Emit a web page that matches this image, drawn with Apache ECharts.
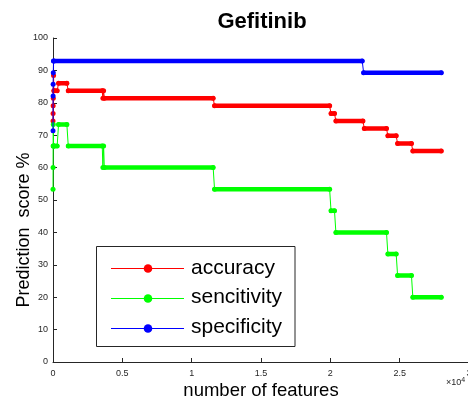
<!DOCTYPE html>
<html>
<head>
<meta charset="utf-8">
<script src="https://cdn.jsdelivr.net/npm/echarts@6/dist/echarts.min.js"></script>
<style>
  html, body { margin: 0; padding: 0; background: #fff; }
  #chart { width: 468px; height: 404px; }
</style>
</head>
<body>
<div id="chart"></div>
<script>
// Prediction scores against the number of selected features (Gefitinib)
const accFeatures = [1, 5, 10, 20, 40, 60, 100, 300, 400, 1000, 1100, 3550, 3600, 3650, 3700, 11550, 11650, 19950, 20050, 20300, 20400, 22350, 22450, 24050, 24150, 24750, 24850, 25850, 25950, 28000];
const accScores   = [74.4, 76.7, 79.1, 81.4, 88.4, 83.7, 83.7, 83.7, 86.0, 86.0, 83.7, 83.7, 81.4, 83.7, 81.4, 81.4, 79.1, 79.1, 76.7, 76.7, 74.4, 74.4, 72.1, 72.1, 69.8, 69.8, 67.4, 67.4, 65.1, 65.1];

const senFeatures = [1, 5, 10, 20, 40, 60, 100, 300, 400, 1000, 1100, 3550, 3600, 3650, 3700, 11550, 11650, 19950, 20050, 20300, 20400, 24050, 24150, 24750, 24850, 25850, 25950, 28000];
const senScores   = [53.3, 60.0, 66.7, 73.3, 66.7, 66.7, 66.7, 66.7, 73.3, 73.3, 66.7, 66.7, 60.0, 66.7, 60.0, 60.0, 53.3, 53.3, 46.7, 46.7, 40.0, 40.0, 33.3, 33.3, 26.7, 26.7, 20.0, 20.0];

const speFeatures = [1, 5, 10, 20, 40, 60, 22300, 22400, 28000];
const speScores   = [71.4, 82.1, 85.7, 89.3, 92.9, 92.9, 92.9, 89.3, 89.3];

const seriesNames = ['accuracy', 'sencitivity', 'specificity'];
const seriesColors = ['#ff0000', '#00ff00', '#0000ff'];

const yTicks = [0, 10, 20, 30, 40, 50, 60, 70, 80, 90, 100];
const xTickLabels = ['0', '0.5', '1', '1.5', '2', '2.5', '3'];

const FONT = '"Liberation Sans", Arial, Helvetica, sans-serif';
const AXIS_COLOR = '#262626';

function points(xs, ys) {
  return xs.map((x, i) => [x, ys[i]]);
}

// Only the flat runs of a step curve, broken wherever the value changes
function flatRuns(xs, ys) {
  const out = [];
  for (let i = 0; i < xs.length; i++) {
    if (i > 0 && ys[i] !== ys[i - 1]) out.push([xs[i], '-']);
    out.push([xs[i], ys[i]]);
  }
  return out;
}

function curve(name, color, xs, ys, z) {
  return [
    {
      name: name,
      type: 'line',
      data: points(xs, ys),
      symbol: 'circle',
      symbolSize: 5,
      showSymbol: true,
      lineStyle: { width: 1, color: color },
      itemStyle: { color: color },
      z: z,
      silent: true
    },
    {
      name: name + '-run',
      type: 'line',
      data: flatRuns(xs, ys),
      showSymbol: false,
      connectNulls: false,
      lineStyle: { width: 4.5, color: color, cap: 'round' },
      z: z,
      silent: true
    }
  ];
}

const chart = echarts.init(document.getElementById('chart'), null, { renderer: 'canvas' });

const legendLeft = 96.5, legendTop = 246.5, legendW = 198.5, legendH = 100;
const legendRows = [268, 297.5, 327.5];
const legendGraphics = [
  {
    type: 'rect',
    shape: { x: legendLeft, y: legendTop, width: legendW, height: legendH },
    style: { fill: '#ffffff', stroke: AXIS_COLOR, lineWidth: 1 },
    z: 100
  }
];
seriesNames.forEach((name, i) => {
  const y = legendRows[i];
  legendGraphics.push(
    { type: 'line', shape: { x1: 111, y1: Math.round(y) + 0.5, x2: 184, y2: Math.round(y) + 0.5 }, style: { stroke: seriesColors[i], lineWidth: 1 }, z: 101 },
    { type: 'circle', shape: { cx: 148, cy: Math.round(y) + 0.5, r: 4.3 }, style: { fill: seriesColors[i] }, z: 102 },
    { type: 'text', x: 191, y: y, style: { text: name, font: '21px ' + FONT, fill: '#000', verticalAlign: 'middle', align: 'left' }, z: 102 }
  );
});

const option = {
  animation: false,
  backgroundColor: '#ffffff',
  grid: { left: 53, top: 38, width: 416, height: 324, containLabel: false, outerBoundsMode: 'none' },
  xAxis: {
    type: 'value',
    min: 0,
    max: 30000,
    interval: 5000,
    axisLine: { show: true, lineStyle: { color: AXIS_COLOR, width: 1 } },
    axisTick: { show: true, inside: true, length: 4, lineStyle: { color: AXIS_COLOR } },
    splitLine: { show: false },
    axisLabel: {
      margin: 7,
      fontFamily: FONT,
      fontSize: 9,
      color: AXIS_COLOR,
      hideOverlap: false,
      formatter: (v) => xTickLabels[Math.round(v / 5000)]
    }
  },
  yAxis: {
    type: 'value',
    min: yTicks[0],
    max: yTicks[yTicks.length - 1],
    interval: 10,
    axisLine: { show: true, lineStyle: { color: AXIS_COLOR, width: 1 } },
    axisTick: { show: true, inside: true, length: 4, lineStyle: { color: AXIS_COLOR } },
    splitLine: { show: false },
    axisLabel: { margin: 5, fontFamily: FONT, fontSize: 9, color: AXIS_COLOR }
  },
  series: [].concat(
    curve(seriesNames[0], seriesColors[0], accFeatures, accScores, 2),
    curve(seriesNames[1], seriesColors[1], senFeatures, senScores, 3),
    curve(seriesNames[2], seriesColors[2], speFeatures, speScores, 4)
  ),
  graphic: [
    {
      type: 'text',
      x: 262, y: 22,
      style: { text: 'Gefitinib', font: 'bold 22px ' + FONT, fill: '#000', align: 'center', verticalAlign: 'middle' }
    },
    {
      type: 'text',
      x: 261, y: 391,
      style: { text: 'number of features', font: '18.5px ' + FONT, fill: '#000', align: 'center', verticalAlign: 'middle' }
    },
    {
      type: 'text',
      x: 24, y: 230,
      rotation: Math.PI / 2,
      style: { text: 'Prediction  score %', font: '18px ' + FONT, fill: '#000', align: 'center', verticalAlign: 'middle' }
    },
    {
      type: 'text',
      x: 446, y: 383,
      style: {
        text: '{a|\u00d710}{b|4}',
        verticalAlign: 'middle',
        rich: {
          a: { fontFamily: FONT, fontSize: 9, fill: AXIS_COLOR, color: AXIS_COLOR },
          b: { fontFamily: FONT, fontSize: 7, fill: AXIS_COLOR, color: AXIS_COLOR, verticalAlign: 'top', padding: [0, 0, 6, 0] }
        }
      }
    }
  ].concat(legendGraphics)
};

chart.setOption(option);
</script>
</body>
</html>
